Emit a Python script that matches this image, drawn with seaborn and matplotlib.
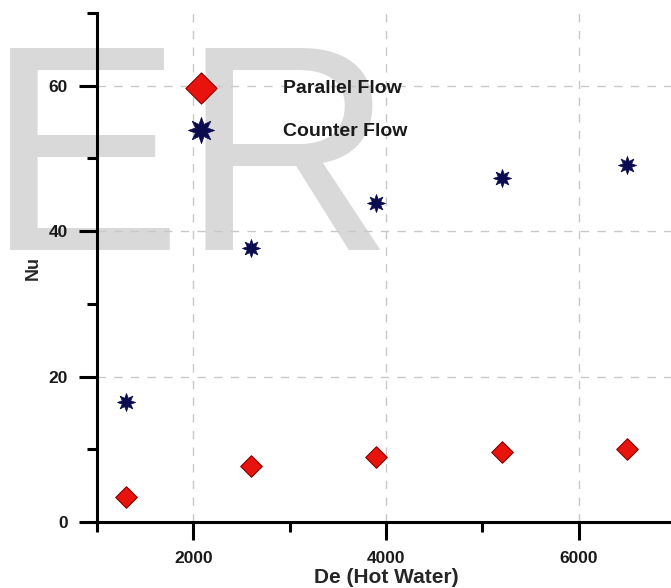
"""
Nusselt number vs Dean number (hot water side), parallel vs counter flow.
"""
import matplotlib

matplotlib.use("Agg")
import matplotlib.pyplot as plt
import pandas as pd
import seaborn as sns
from matplotlib.ticker import MultipleLocator

# --- data ---
de_values = [1300, 2600, 3900, 5200, 6500]
nu_parallel = [3.4, 7.7, 8.9, 9.6, 10.0]
nu_counter = [16.5, 37.7, 43.9, 47.3, 49.1]
series_names = ["Parallel Flow", "Counter Flow"]

RED = "#e8130c"
NAVY = "#0b0b4f"

df = pd.DataFrame(
    {
        "De": de_values * 2,
        "Nu": nu_parallel + nu_counter,
        "flow": [series_names[0]] * len(de_values) + [series_names[1]] * len(de_values),
    }
)

sns.set_theme(style="white")
plt.rcParams["font.family"] = ["Liberation Sans", "DejaVu Sans"]

fig = plt.figure(figsize=(6.71, 5.88), dpi=100)
ax = fig.add_axes([97 / 671, 66 / 588, 578 / 671, 509 / 588])
ax.patch.set_alpha(0)

# watermark behind the axes
fig.text(-14 / 671, 1 - 250 / 588, "ER", fontsize=212, color="#d9d9d9",
         ha="left", va="baseline", zorder=-5)

sns.scatterplot(data=df[df["flow"] == series_names[0]], x="De", y="Nu",
                marker="D", s=120, color=RED, edgecolor="#8a0000", linewidth=0.8,
                label=series_names[0], ax=ax, zorder=3)
sns.scatterplot(data=df[df["flow"] == series_names[1]], x="De", y="Nu",
                marker=(8, 1, 0), s=170, color=NAVY, edgecolor=NAVY, linewidth=0.5,
                label=series_names[1], ax=ax, zorder=3)

ax.set_xlim(1000, 7000)
ax.set_ylim(0, 70)
ax.xaxis.set_major_locator(MultipleLocator(2000))
ax.xaxis.set_minor_locator(MultipleLocator(1000))
ax.yaxis.set_major_locator(MultipleLocator(20))
ax.yaxis.set_minor_locator(MultipleLocator(10))

ax.grid(True, which="major", color="#c8c8c8", linestyle=(0, (6, 6)), linewidth=1.0)
ax.set_axisbelow(True)

for side in ["top", "right"]:
    ax.spines[side].set_visible(False)
for side in ["left", "bottom"]:
    ax.spines[side].set_linewidth(2.2)
    ax.spines[side].set_color("black")

ax.tick_params(which="major", direction="out", length=13, width=2.2, color="black",
               labelsize=12.5, pad=8)
ax.tick_params(which="minor", direction="out", length=7, width=2.2, color="black")
ax.tick_params(axis="both", which="both", bottom=True, left=True)
for lab in ax.get_xticklabels() + ax.get_yticklabels():
    lab.set_fontweight("bold")
    lab.set_color("#1a1a1a")

ax.set_xlabel("De (Hot Water)", fontsize=15, fontweight="bold", labelpad=1)
ax.set_ylabel("Nu", fontsize=13, fontweight="bold", labelpad=5)

leg = ax.legend(loc="upper left", bbox_to_anchor=(182 / 671, 1 - 79 / 588),
                bbox_transform=fig.transFigure, frameon=False,
                prop={"weight": "bold", "size": 14}, markerscale=1.45,
                handletextpad=3.2, labelspacing=1.3, borderpad=0, borderaxespad=0)
for t in leg.get_texts():
    t.set_color("#1a1a1a")

fig.savefig("out.png", dpi=100)
